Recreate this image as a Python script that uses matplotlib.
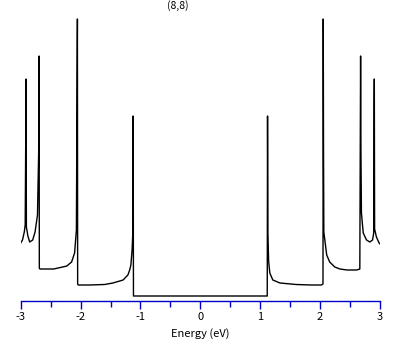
import matplotlib
matplotlib.use('Agg')
import matplotlib.pyplot as plt
from matplotlib.ticker import MultipleLocator

plt.rcParams['font.family'] = ['Noto Sans CJK JP', 'DejaVu Sans']

# density of states of the (8,8) tube (arbitrary units)
energy_left = [-3.00, -2.97, -2.94, -2.925, -2.915, -2.911, -2.905, -2.88, -2.85, -2.80,
               -2.76, -2.72, -2.70, -2.693, -2.689, -2.68, -2.60, -2.45, -2.30, -2.23,
               -2.15, -2.10, -2.07, -2.058, -2.053, -2.049, -2.04, -1.85, -1.60, -1.46,
               -1.29, -1.21, -1.18, -1.16, -1.14, -1.128, -1.122, -1.117, -1.10, -0.5, 0.0]
dos_left = [0.58, 0.61, 0.69, 0.76, 1.70, 2.22, 0.74, 0.65, 0.59, 0.61,
            0.69, 0.86, 1.48, 2.45, 0.33, 0.32, 0.32, 0.32, 0.34, 0.35,
            0.39, 0.48, 0.71, 2.24, 2.82, 0.17, 0.16, 0.16, 0.165, 0.18,
            0.21, 0.26, 0.31, 0.36, 0.51, 0.68, 1.85, 0.05, 0.05, 0.05, 0.05]

energy_right = [0.5, 1.10, 1.117, 1.122, 1.128, 1.14, 1.16, 1.21, 1.33, 1.60,
                1.85, 2.02, 2.048, 2.052, 2.057, 2.062, 2.11, 2.16, 2.245, 2.33,
                2.45, 2.61, 2.663, 2.676, 2.682, 2.69, 2.72, 2.775, 2.83, 2.875,
                2.895, 2.902, 2.905, 2.91, 2.94, 2.985, 3.00]
dos_right = [0.05, 0.05, 0.05, 1.85, 0.68, 0.40, 0.28, 0.21, 0.18, 0.165,
             0.16, 0.16, 0.17, 2.82, 1.49, 0.69, 0.46, 0.39, 0.34, 0.32,
             0.31, 0.31, 0.32, 2.45, 1.48, 0.88, 0.68, 0.61, 0.59, 0.61,
             0.68, 1.96, 2.22, 0.72, 0.64, 0.58, 0.57]

tick_values = [-3, -2, -1, 0, 1, 2, 3]
tick_labels = ['-3', '-2', '-1', '0', '1', '2', '3']
title = '(8,8)'
xlabel = 'Energy (eV)'

fig = plt.figure(figsize=(4.09, 3.45), dpi=100)
ax = fig.add_axes([20.7 / 409, 44 / 345, 359.3 / 409, 291 / 345])

ax.plot(energy_left + energy_right, dos_left + dos_right, color='black', lw=1.0)

ax.set_xlim(-3, 3)
ax.set_ylim(0, 2.91)

for s in ['left', 'right', 'top']:
    ax.spines[s].set_visible(False)
ax.spines['bottom'].set_color('#0000c8')
ax.spines['bottom'].set_linewidth(1.0)
ax.set_yticks([])

ax.set_xticks(tick_values)
ax.set_xticklabels(tick_labels)
ax.xaxis.set_minor_locator(MultipleLocator(0.5))
ax.tick_params(axis='x', which='major', direction='out', length=6, width=1,
               color='#0000c8', labelsize=8, pad=2)
ax.tick_params(axis='x', which='minor', direction='out', length=4, width=1,
               color='#0000c8')
ax.set_xlabel(xlabel, fontsize=8, labelpad=4)

fig.text(178 / 409, 1 - 6 / 345, title, ha='center', va='center', fontsize=7.5)

fig.savefig('out.png', dpi=100)
